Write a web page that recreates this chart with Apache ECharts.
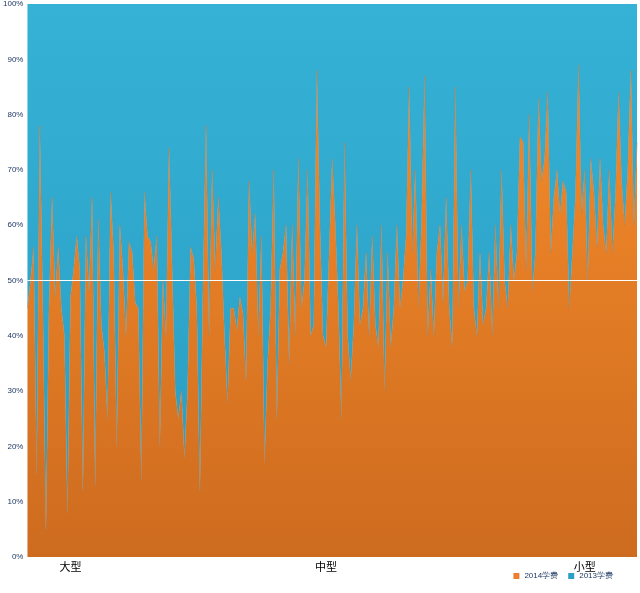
<!DOCTYPE html>
<html><head><meta charset="utf-8">
<script src="https://cdn.jsdelivr.net/npm/echarts@6/dist/echarts.min.js"></script>
<style>html,body{margin:0;padding:0;background:#fff}#c{width:640px;height:593px}</style>
</head><body><div id="c"></div>
<script>
// Share of 2014 tuition (%) per school, ordered 大型 → 中型 → 小型
const share2014 = [45,50,56,15,78,45,5,45,65,47,56,45,40,8,47,52,58,52,12,58,48,65,13,61,42,37,25,66,55,20,60,52,40,57,55,46,45,14,66,58,57,52,58,20,50,40,74,52,30,25,30,18,30,56,54,45,12,48,78,40,
70,52,65,55,40,28,45,45,41,47,44,32,68,55,62,40,58,17,35,45,70,25,52,55,60,35,60,40,72,45,50,70,40,42,88,60,40,38,55,72,60,45,25,75,40,32,42,60,42,45,55,40,58,42,38,60,30,55,38,45,60,45,50,58,85,55,
70,45,60,87,40,52,40,55,60,46,65,45,38,85,45,60,48,50,70,45,40,55,42,45,55,40,60,45,70,50,45,60,50,55,76,75,52,80,48,55,83,68,72,84,55,65,70,62,68,66,45,55,65,89,62,70,50,72,66,56,72,60,55,70,55,65,84,68,60,70,88,60,75];
const share2013 = share2014.map(v => 100 - v);
const groupLabels = ['大型', '中型', '小型'];
const groupLabelPos = [0.073, 0.49, 0.914]; // fraction along axis
const yTicks = ['0%','10%','20%','30%','40%','50%','60%','70%','80%','90%','100%'];
const names = ['2014学费', '2013学费'];

const N = share2014.length;
const cats = share2014.map((_, i) => String(i));
const labelIdx = groupLabelPos.map(f => Math.round(f * (N - 1)));
const chart = echarts.init(document.getElementById('c'));
const grad = (a, b) => new echarts.graphic.LinearGradient(0, 0, 0, 1, [{offset: 0, color: a}, {offset: 1, color: b}]);
chart.setOption({
  animation: false,
  grid: {left: 27, right: 0, top: 3, bottom: 36},
  legend: {
    right: 22, bottom: 8, itemWidth: 6, itemHeight: 6, itemGap: 10,
    textStyle: {fontSize: 8, color: '#1f3864'},
    data: [{name: names[0], icon: 'rect'}, {name: names[1], icon: 'rect'}]
  },
  xAxis: {
    type: 'category', data: cats, boundaryGap: false,
    axisLine: {show: false}, axisTick: {show: false},
    axisLabel: {
      interval: 0, margin: 4, fontSize: 11, color: '#000', fontFamily: 'Noto Sans CJK SC',
      formatter: (v, i) => { const k = labelIdx.indexOf(i); return k >= 0 ? groupLabels[k] : ''; }
    }
  },
  yAxis: {
    type: 'value', min: 0, max: 100, interval: 10,
    splitLine: {show: false}, axisLine: {show: false}, axisTick: {show: false},
    axisLabel: {fontSize: 8, color: '#1f3864', margin: 4, formatter: v => yTicks[v / 10]}
  },
  series: [
    {name: names[0], type: 'line', stack: 't', data: share2014, symbol: 'none',
     lineStyle: {width: 0.6, color: '#b0865a'}, itemStyle: {color: '#ED7D31'},
     areaStyle: {opacity: 1, color: grad('#F58B2A', '#CD6B1F')},
     markLine: {symbol: 'none', silent: true, label: {show: false},
       lineStyle: {color: '#ffffff', width: 1.2, type: 'solid'}, data: [{yAxis: 50}]}},
    {name: names[1], type: 'line', stack: 't', data: share2013, symbol: 'none',
     lineStyle: {width: 0}, itemStyle: {color: '#2E9FC7'},
     areaStyle: {opacity: 1, color: grad('#35B2D6', '#2A9CC2')}}
  ]
});
</script></body></html>
